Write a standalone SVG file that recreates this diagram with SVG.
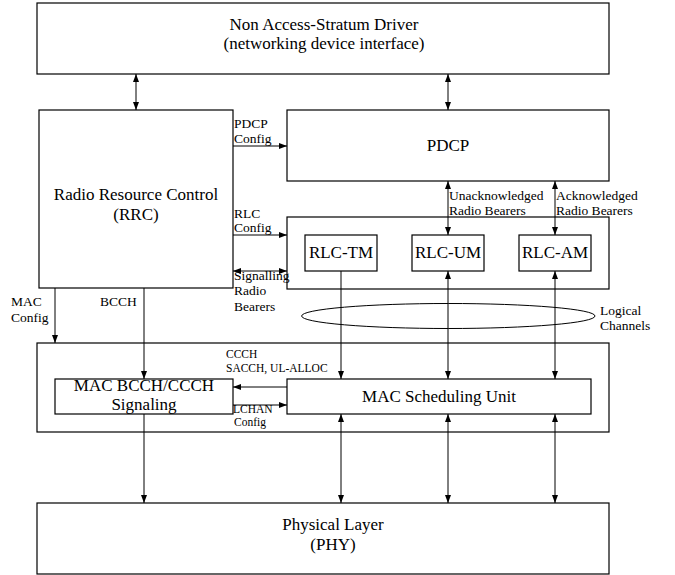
<svg xmlns="http://www.w3.org/2000/svg" width="675" height="575" viewBox="0 0 675 575">
<defs>
<marker id="ah" markerUnits="userSpaceOnUse" markerWidth="9" markerHeight="7" refX="8" refY="3" orient="auto-start-reverse"><path d="M0,0 L8,3 L0,6 z" fill="#000"/></marker>
<style>
.box{fill:#fff;stroke:#000;stroke-width:1.2}
.ln{fill:none;stroke:#000;stroke-width:1}
.a{marker-end:url(#ah)}
.d{marker-start:url(#ah);marker-end:url(#ah)}
text{font-family:"Liberation Serif","Times New Roman",serif;fill:#000}
.m{font-size:17px;text-anchor:middle}
.l{font-size:13.5px}
.s{font-size:11.5px}
</style>
</defs>
<rect width="675" height="575" fill="#fff"/>
<g id="nas"><rect class="box" x="37" y="3" width="572" height="71"/><text class="m" x="324" y="30" font-size="16.5">Non Access-Stratum Driver</text><text class="m" x="324" y="49" font-size="16.5">(networking device interface)</text></g>
<g id="rrc"><rect class="box" x="39" y="110" width="194" height="178"/><text class="m" x="136" y="200">Radio Resource Control</text><text class="m" x="136" y="220">(RRC)</text></g>
<g id="pdcp"><rect class="box" x="287" y="110" width="322" height="71"/><text class="m" x="448" y="151">PDCP</text></g>
<g id="rlc"><rect class="box" x="287" y="217" width="322" height="72"/></g>
<g id="rlc-tm"><rect class="box" x="305" y="235" width="72" height="36"/><text class="m" x="341" y="258">RLC-TM</text></g>
<g id="rlc-um"><rect class="box" x="412" y="235" width="72" height="36"/><text class="m" x="448" y="258">RLC-UM</text></g>
<g id="rlc-am"><rect class="box" x="519" y="235" width="72" height="36"/><text class="m" x="555" y="258">RLC-AM</text></g>
<g id="logical"><ellipse class="ln" cx="448.3" cy="316" rx="146.7" ry="12.5"/><text class="l" x="600" y="315">Logical</text><text class="l" x="600" y="330">Channels</text></g>
<g id="mac"><rect class="box" x="37" y="343" width="572" height="89"/></g>
<g id="mac-bcch"><rect class="box" x="55" y="379" width="178" height="35"/><text class="m" x="144" y="391">MAC BCCH/CCCH</text><text class="m" x="144" y="410">Signaling</text></g>
<g id="mac-sched"><rect class="box" x="287" y="379" width="304" height="35"/><text class="m" x="439" y="402">MAC Scheduling Unit</text></g>
<g id="phy"><rect class="box" x="37" y="503" width="572" height="71"/><text class="m" x="333" y="530" font-size="16.5">Physical Layer</text><text class="m" x="333" y="550" font-size="16.5">(PHY)</text></g>
<g id="connectors">
<line class="ln d" x1="136" y1="74" x2="136" y2="110"/>
<line class="ln d" x1="448" y1="74" x2="448" y2="110"/>
<line class="ln a" x1="233" y1="146" x2="287" y2="146"/>
<line class="ln a" x1="233" y1="235" x2="287" y2="235"/>
<line class="ln d" x1="233" y1="271" x2="287" y2="271"/>
<line class="ln d" x1="448" y1="181" x2="448" y2="235"/>
<line class="ln d" x1="555" y1="181" x2="555" y2="235"/>
<line class="ln a" x1="341" y1="271" x2="341" y2="379"/>
<line class="ln d" x1="448" y1="271" x2="448" y2="379"/>
<line class="ln d" x1="555" y1="271" x2="555" y2="379"/>
<line class="ln a" x1="55" y1="288" x2="55" y2="343"/>
<line class="ln a" x1="144" y1="288" x2="144" y2="379"/>
<line class="ln a" x1="287" y1="387" x2="233" y2="387"/>
<line class="ln a" x1="233" y1="405" x2="287" y2="405"/>
<line class="ln a" x1="144" y1="414" x2="144" y2="503"/>
<line class="ln d" x1="341" y1="414" x2="341" y2="503"/>
<line class="ln d" x1="448" y1="414" x2="448" y2="503"/>
<line class="ln d" x1="555" y1="414" x2="555" y2="503"/>
<text class="l" x="234" y="128">PDCP</text><text class="l" x="234" y="143">Config</text>
<text class="l" x="234" y="218">RLC</text><text class="l" x="234" y="232">Config</text>
<text class="l" x="234" y="280">Signalling</text><text class="l" x="234" y="295">Radio</text><text class="l" x="234" y="311">Bearers</text>
<text class="l" x="449" y="200">Unacknowledged</text><text class="l" x="449" y="215">Radio Bearers</text>
<text class="l" x="556" y="200">Acknowledged</text><text class="l" x="556" y="215">Radio Bearers</text>
<text class="l" x="11" y="306">MAC</text><text class="l" x="11" y="322">Config</text>
<text class="l" x="100" y="306">BCCH</text>
<text class="s" x="226" y="358">CCCH</text><text class="s" x="226" y="372">SACCH, UL-ALLOC</text>
<text class="s" x="233" y="413">LCHAN</text><text class="s" x="234" y="426">Config</text>
</g>
</svg>
